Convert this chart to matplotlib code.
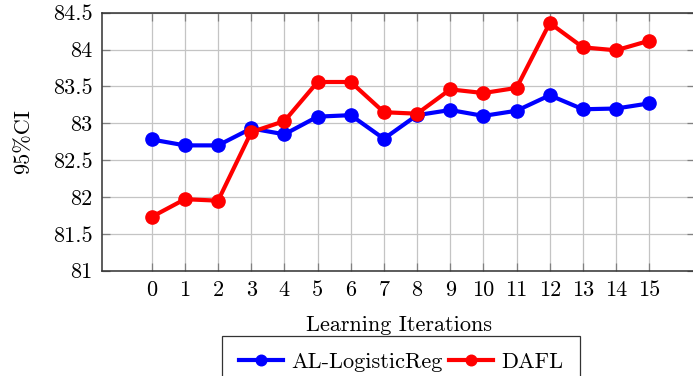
import matplotlib
matplotlib.use("Agg")
import matplotlib.pyplot as plt

# data
iterations = list(range(16))
al_logistic = [82.78, 82.70, 82.70, 82.93, 82.85, 83.09, 83.11, 82.79,
               83.11, 83.18, 83.10, 83.17, 83.38, 83.19, 83.20, 83.27]
dafl = [81.73, 81.97, 81.95, 82.88, 83.03, 83.56, 83.56, 83.15,
        83.13, 83.46, 83.41, 83.48, 84.36, 84.03, 83.99, 84.12]
y_ticks = [81, 81.5, 82, 82.5, 83, 83.5, 84, 84.5]
y_tick_labels = ["81", "81.5", "82", "82.5", "83", "83.5", "84", "84.5"]

plt.rcParams["font.family"] = "serif"
plt.rcParams["font.serif"] = ["cmr10", "DejaVu Serif"]
plt.rcParams["mathtext.fontset"] = "cm"
plt.rcParams["axes.unicode_minus"] = False

fs = 16
fig = plt.figure(figsize=(6.93, 3.76), dpi=100)
ax = fig.add_axes([102 / 693, 1 - 270.7 / 376, 593 / 693, 258 / 376])

# grid behind the lines
ax.grid(True, color="#c4c4c4", linewidth=0.9)
ax.set_axisbelow(True)

ax.plot(iterations, al_logistic, color="blue", linewidth=3, marker="o",
        markersize=9.5, label="AL-LogisticReg", zorder=3)
ax.plot(iterations, dafl, color="red", linewidth=3, marker="o",
        markersize=9.5, label="DAFL", zorder=4)

ax.set_xlim(-1.5, 16.38)
ax.set_ylim(81, 84.5)
ax.set_xticks(iterations)
ax.set_xticklabels([str(i) for i in iterations], fontsize=fs)
ax.set_yticks(y_ticks)
ax.set_yticklabels(y_tick_labels, fontsize=fs)
ax.tick_params(direction="in", length=6, width=0.9, color="#808080",
               top=True, right=True, pad=7)

for s in ax.spines.values():
    s.set_color("#303030")
    s.set_linewidth(1.1)

ax.set_xlabel("Learning Iterations", fontsize=fs, labelpad=11)
ax.set_ylabel("95%CI", fontsize=fs, labelpad=14)

leg = fig.legend(loc="upper center", bbox_to_anchor=(401 / 693, 1 - 336 / 376),
                 ncol=2, fontsize=fs, frameon=True, fancybox=False,
                 edgecolor="black", handlelength=2.0, columnspacing=0.3,
                 handletextpad=0.35, borderpad=0.75, borderaxespad=0,
                 markerscale=0.8)
leg.get_frame().set_linewidth(0.9)

fig.savefig("out.png", dpi=100)
